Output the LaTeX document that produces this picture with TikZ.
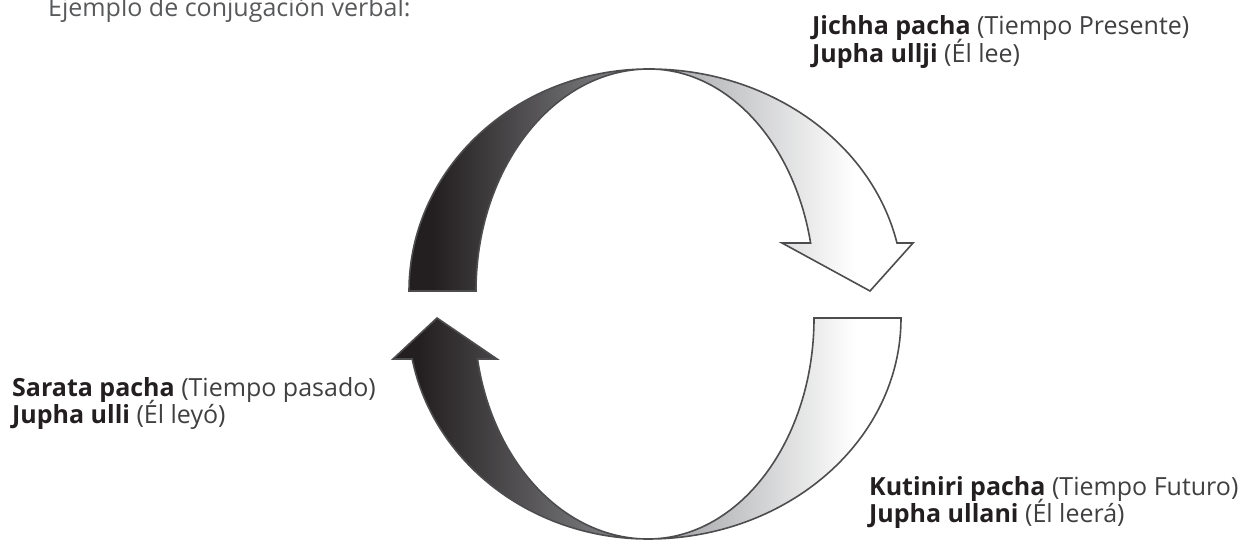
\documentclass[tikz,border=0pt]{standalone}
\usepackage{fontspec}
\setmainfont{Open Sans}
\definecolor{ink}{HTML}{231F20}
\definecolor{soft}{HTML}{404042}
\definecolor{edge}{HTML}{4D4D4F}
\definecolor{titlegray}{HTML}{58595B}
\definecolor{greyA}{HTML}{8E8F92}
\definecolor{greyB}{HTML}{A2A3A6}
\definecolor{greyC}{HTML}{9A9B9E}
\pgfdeclarehorizontalshading{darkband}{100bp}{color(0bp)=(ink); color(30bp)=(ink); color(75bp)=(greyA); color(100bp)=(greyA)}
\pgfdeclarehorizontalshading{whitebandA}{100bp}{color(0bp)=(greyB); color(25bp)=(greyB); color(64bp)=(white); color(100bp)=(white)}
\pgfdeclarehorizontalshading{whitebandB}{100bp}{color(0bp)=(greyC); color(25bp)=(greyC); color(66bp)=(white); color(100bp)=(white)}
\begin{document}
\begin{tikzpicture}[x=1pt,y=1pt,
  band/.style={draw=edge,line width=1.6pt,line join=miter,shade,shading angle=0},
  lbl/.style={anchor=base west,inner sep=0pt,text=ink,font=\fontsize{25}{27}\selectfont}]
\useasboundingbox (0,0) rectangle (1245,543);

% upper dark band (past -> present)
\path[band,shading=darkband]
  (409,252) arc[start angle=180,end angle=90,x radius=240pt,y radius=222pt]
  arc[start angle=90,end angle=180,x radius=173pt,y radius=222pt] -- cycle;

% upper white arrow (towards future)
\path[band,shading=whitebandA]
  (649,474) arc[start angle=90,end angle=12.49,x radius=254pt,y radius=222pt]
  -- (913,300) -- (870,252) -- (782,300) -- (810.6,300)
  arc[start angle=12.49,end angle=90,x radius=165.5pt,y radius=222pt] -- cycle;

% lower white band (future -> past)
\path[band,shading=whitebandB]
  (901,225) arc[start angle=0,end angle=-90,x radius=253pt,y radius=221pt]
  arc[start angle=-90,end angle=0,x radius=166pt,y radius=221pt] -- cycle;

% lower dark arrow (towards past)
\path[band,shading=darkband]
  (648,4) arc[start angle=270,end angle=190.69,x radius=240pt,y radius=221pt]
  -- (393,184) -- (437,225) -- (497,184) -- (477.5,184)
  arc[start angle=190.69,end angle=270,x radius=173.5pt,y radius=221pt] -- cycle;

% texts
\node[lbl,text=titlegray] (title) at (48,526) {Ejemplo de conjugación verbal:};

\node[lbl] (pres1) at (812,508) {\textbf{Jichha pacha} {\color{soft}(Tiempo Presente)}};
\node[lbl] (pres2) at (812,480) {\textbf{Jupha ullji} {\color{soft}(Él lee)}};

\node[lbl] (past1) at (12,146.5) {\textbf{Sarata pacha} {\color{soft}(Tiempo pasado)}};
\node[lbl] (past2) at (12,119.7) {\textbf{Jupha ulli} {\color{soft}(Él leyó)}};

\node[lbl] (fut1) at (869,47) {\textbf{Kutiniri pacha} {\color{soft}(Tiempo Futuro)}};
\node[lbl] (fut2) at (869,20) {\textbf{Jupha ullani} {\color{soft}(Él leerá)}};
\end{tikzpicture}
\end{document}
